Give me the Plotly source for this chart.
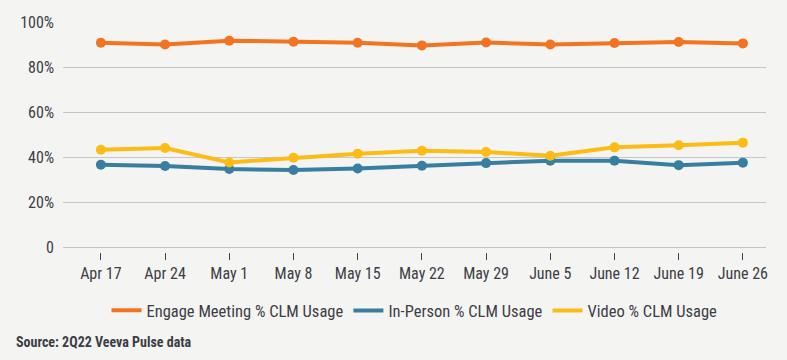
import plotly.graph_objects as go

weeks = ["Apr 17", "Apr 24", "May 1", "May 8", "May 15", "May 22", "May 29",
         "June 5", "June 12", "June 19", "June 26"]
engage = [90.8, 90.0, 91.7, 91.2, 90.8, 89.6, 90.9, 90.0, 90.7, 91.1, 90.5]
in_person = [36.6, 36.0, 34.7, 34.2, 34.9, 36.1, 37.3, 38.4, 38.4, 36.4, 37.5]
video = [43.2, 44.0, 37.6, 39.7, 41.5, 42.8, 42.2, 40.6, 44.3, 45.2, 46.4]
ytick_vals = [0, 20, 40, 60, 80, 100]
ytick_text = ["0", "20%", "40%", "60%", "80%", "100%"]

FONT = "Roboto Condensed, Liberation Sans Narrow, Roboto, sans-serif"
TXT = "#3d3d45"

fig = go.Figure()
series = [
    ("Engage Meeting % CLM Usage", engage, "#F47321"),
    ("In-Person % CLM Usage", in_person, "#377E9F"),
    ("Video % CLM Usage", video, "#FDBB16"),
]
for name, vals, col in series:
    fig.add_trace(go.Scatter(
        x=weeks, y=vals, name=name, mode="lines",
        line=dict(color=col, width=4), legendgroup=name,
    ))
for name, vals, col in series:
    fig.add_trace(go.Scatter(
        x=weeks, y=vals, name=name, mode="markers", showlegend=False,
        marker=dict(color=col, size=10), legendgroup=name,
    ))

fig.update_layout(
    width=787, height=360,
    margin=dict(l=63, r=21, t=22, b=108),
    paper_bgcolor="#F4F4F3", plot_bgcolor="#F4F4F3",
    font=dict(family=FONT, size=16, color=TXT),
    showlegend=True,
    legend=dict(orientation="h", x=0.5, xanchor="center", y=-0.255, yanchor="middle",
                font=dict(size=16.5, color=TXT), bgcolor="rgba(0,0,0,0)"),
    annotations=[dict(text="<b>Source: 2Q22 Veeva Pulse data</b>", xref="paper", yref="paper",
                      x=-0.069, y=-0.39, xanchor="left", yanchor="middle", showarrow=False,
                      font=dict(size=14, color=TXT))],
)
fig.update_xaxes(
    type="category", range=[-0.59, 10.36], showgrid=False, zeroline=False,
    showline=False, ticks="outside", ticklen=7, tickcolor="#444", tickwidth=1,
    tickfont=dict(size=16, color=TXT),
)
fig.update_yaxes(
    range=[-2.2, 100], tickvals=ytick_vals, ticktext=ytick_text,
    showgrid=True, gridcolor="#C6C6C6", gridwidth=1, zeroline=False, showline=False,
    ticks="", tickfont=dict(size=16, color=TXT), ticklabelstandoff=8,
)

fig.write_html("out.html", config={"displayModeBar": False},
               post_script="document.body.style.margin='0';document.body.style.padding='0';")
